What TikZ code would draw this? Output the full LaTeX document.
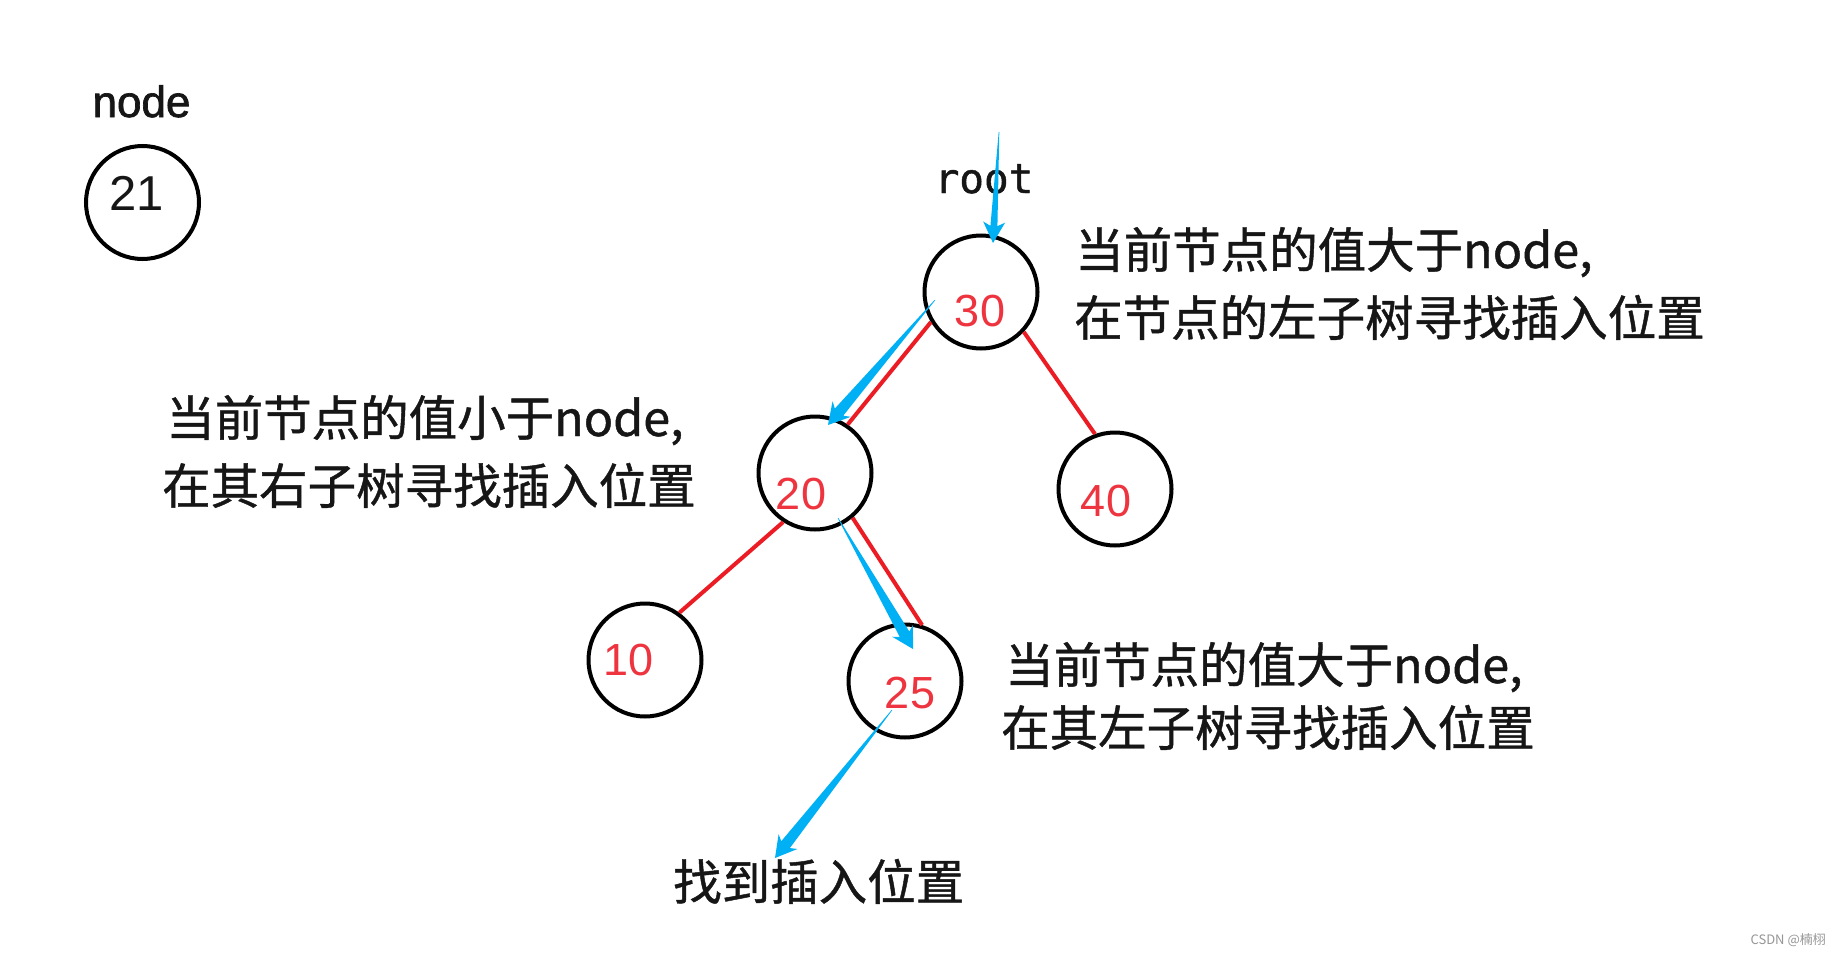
\documentclass[tikz,border=0pt]{standalone}
\usepackage{fontspec}
\setmainfont{Liberation Sans}
\newfontfamily\cjk[FakeBold=0.9]{Noto Sans CJK SC}
\newfontfamily\cjkwm{Noto Sans CJK SC}
\newfontfamily\sansb[FakeBold=1.6]{Liberation Sans}
\newfontfamily\monofnt[FakeBold=1.2]{DejaVu Sans Mono}
\usetikzlibrary{calc}
\definecolor{arrowblue}{RGB}{0,176,245}
\definecolor{edgered}{RGB}{236,28,36}
\definecolor{numred}{RGB}{238,52,62}
\definecolor{inkdark}{RGB}{22,22,22}
\definecolor{wmgray}{RGB}{150,150,150}
\newcommand\taperarrow[4]{%
  \fill[arrowblue] let \p1=($(#2)-(#1)$), \n1={atan2(\y1,\x1)} in
    ($(#1)+(\n1+90:0.3pt)$) -- ($(#2)+(\n1+180:17pt)+(\n1+90:#3)$)
    -- ($(#2)+(\n1+180:21pt)+(\n1+90:#4)$) -- (#2)
    -- ($(#2)+(\n1+180:21pt)+(\n1-90:#4)$) -- ($(#2)+(\n1+180:17pt)+(\n1-90:#3)$)
    -- ($(#1)+(\n1-90:0.3pt)$) -- cycle;}
\begin{document}
\begin{tikzpicture}[x=1pt,y=-1pt,
  circ/.style={circle, draw=black, line width=4pt, minimum size=113pt, inner sep=0pt},
  numlbl/.style={text=numred, font=\fontsize{45}{45}\selectfont, inner sep=0pt},
  redline/.style={draw=edgered, line width=4pt},
  cjktext/.style={anchor=base west, inner sep=0pt, text=inkdark, font=\cjk\fontsize{48.5}{48.5}\selectfont}]
\fill[white] (0,0) rectangle (1840,953);
\useasboundingbox (0,0) rectangle (1840,953);

% standalone node
\node[anchor=base, inner sep=0pt, text=inkdark, font=\sansb\fontsize{44}{44}\selectfont] (nodelbl) at (141.5,117) {node};
\node[circ, label={[text=inkdark, font=\fontsize{49}{49}\selectfont, inner sep=0pt, xshift=-6pt, yshift=9pt]center:21}] (n21) at (142.5,202.5) {};

% tree nodes
\node[circ, label={[numlbl, xshift=-1pt, yshift=-19pt]center:30}] (n30) at (981,292) {};
\node[circ, label={[numlbl, xshift=-14pt, yshift=-21pt]center:20}] (n20) at (815,473) {};
\node[circ, label={[numlbl, xshift=-9pt, yshift=-12pt]center:40}] (n40) at (1115,489) {};
\node[circ, label={[numlbl, xshift=-16pt, yshift=0pt]center:10}] (n10) at (645,660) {};
\node[circ, label={[numlbl, xshift=5pt, yshift=-12pt]center:25}] (n25) at (905,681) {};

% red edges
\draw[redline] (n30.211) -- (n20.56);
\draw[redline] (n30.317) -- (n40.110);
\draw[redline] (n20.237) -- (n10.54);
\draw[redline] (n20.310) -- (n25.73);

% root label
\node[anchor=base, inner sep=0pt, text=inkdark, font=\monofnt\fontsize{41}{41}\selectfont] (rootlbl) at (984,193) {root};

% texts
\node[cjktext] (t1a) at (1075,268) {当前节点的值大于node,};
\node[cjktext] (t1b) at (1074,336) {在节点的左子树寻找插入位置};
\node[cjktext] (t2a) at (166,436) {当前节点的值小于node,};
\node[cjktext] (t2b) at (162,504) {在其右子树寻找插入位置};
\node[cjktext] (t3a) at (1005,683) {当前节点的值大于node,};
\node[cjktext] (t3b) at (1001,746) {在其左子树寻找插入位置};
\node[cjktext] (t4) at (673,900) {找到插入位置};

% blue arrows
\coordinate (rs) at (999,132);
\coordinate (re) at (993,243);
\coordinate (a1s) at (935,300);
\coordinate (a1e) at (828,425);
\coordinate (a2s) at (838,518);
\coordinate (a2e) at (913,649);
\coordinate (a3s) at (892,710);
\coordinate (a3e) at (775,858);
\taperarrow{rs}{re}{3.5pt}{11pt}
\taperarrow{a1s}{a1e}{5.5pt}{12pt}
\taperarrow{a2s}{a2e}{5.5pt}{12pt}
\taperarrow{a3s}{a3e}{5.5pt}{12pt}

% watermark
\node[anchor=base east, inner sep=0pt, text=wmgray, font=\cjkwm\fontsize{13}{13}\selectfont] (wm) at (1826,944) {CSDN @楠栩};
\end{tikzpicture}
\end{document}
